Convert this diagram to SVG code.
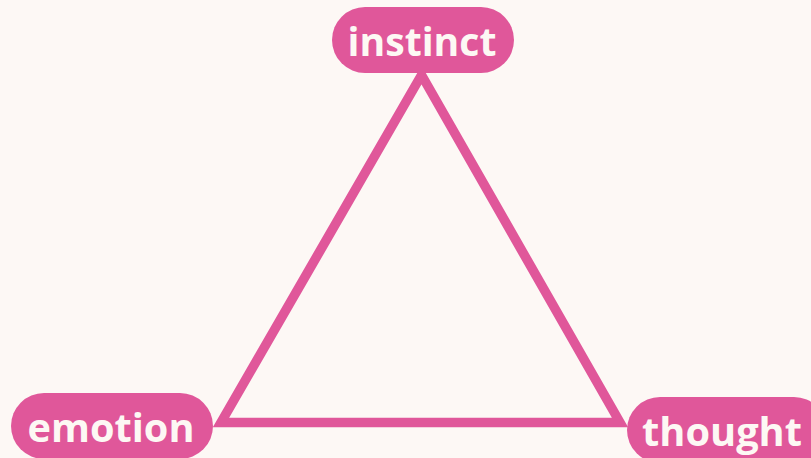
<svg xmlns="http://www.w3.org/2000/svg" width="811" height="458" viewBox="0 0 811 458">
<style>
.pill{fill:#e0579a}
.lbl{font-family:"Open Sans",Lato,"Liberation Sans",sans-serif;font-weight:700;font-size:40px;fill:#fdf8f4;text-anchor:middle;font-variant-ligatures:none}
.edge{fill:none;stroke:#e0579a;stroke-width:9.5;stroke-linejoin:miter}
</style>
<rect width="811" height="458" fill="#fdf8f5"/>
<g id="connectors">
<polygon class="edge" points="421.5,75 221,422.5 620,422.5"/>
</g>
<g id="instinct">
<rect class="pill" x="332" y="7" width="182" height="66" rx="33"/>
<text class="lbl" x="422" y="56" textLength="149" lengthAdjust="spacingAndGlyphs">instinct</text>
</g>
<g id="emotion">
<rect class="pill" x="11" y="393" width="202" height="66" rx="33"/>
<text class="lbl" x="111" y="442" textLength="167" lengthAdjust="spacingAndGlyphs">emotion</text>
</g>
<g id="thought">
<rect class="pill" x="627" y="397" width="200" height="66" rx="33"/>
<text class="lbl" x="722" y="446" textLength="160" lengthAdjust="spacingAndGlyphs">thought</text>
</g>
</svg>
